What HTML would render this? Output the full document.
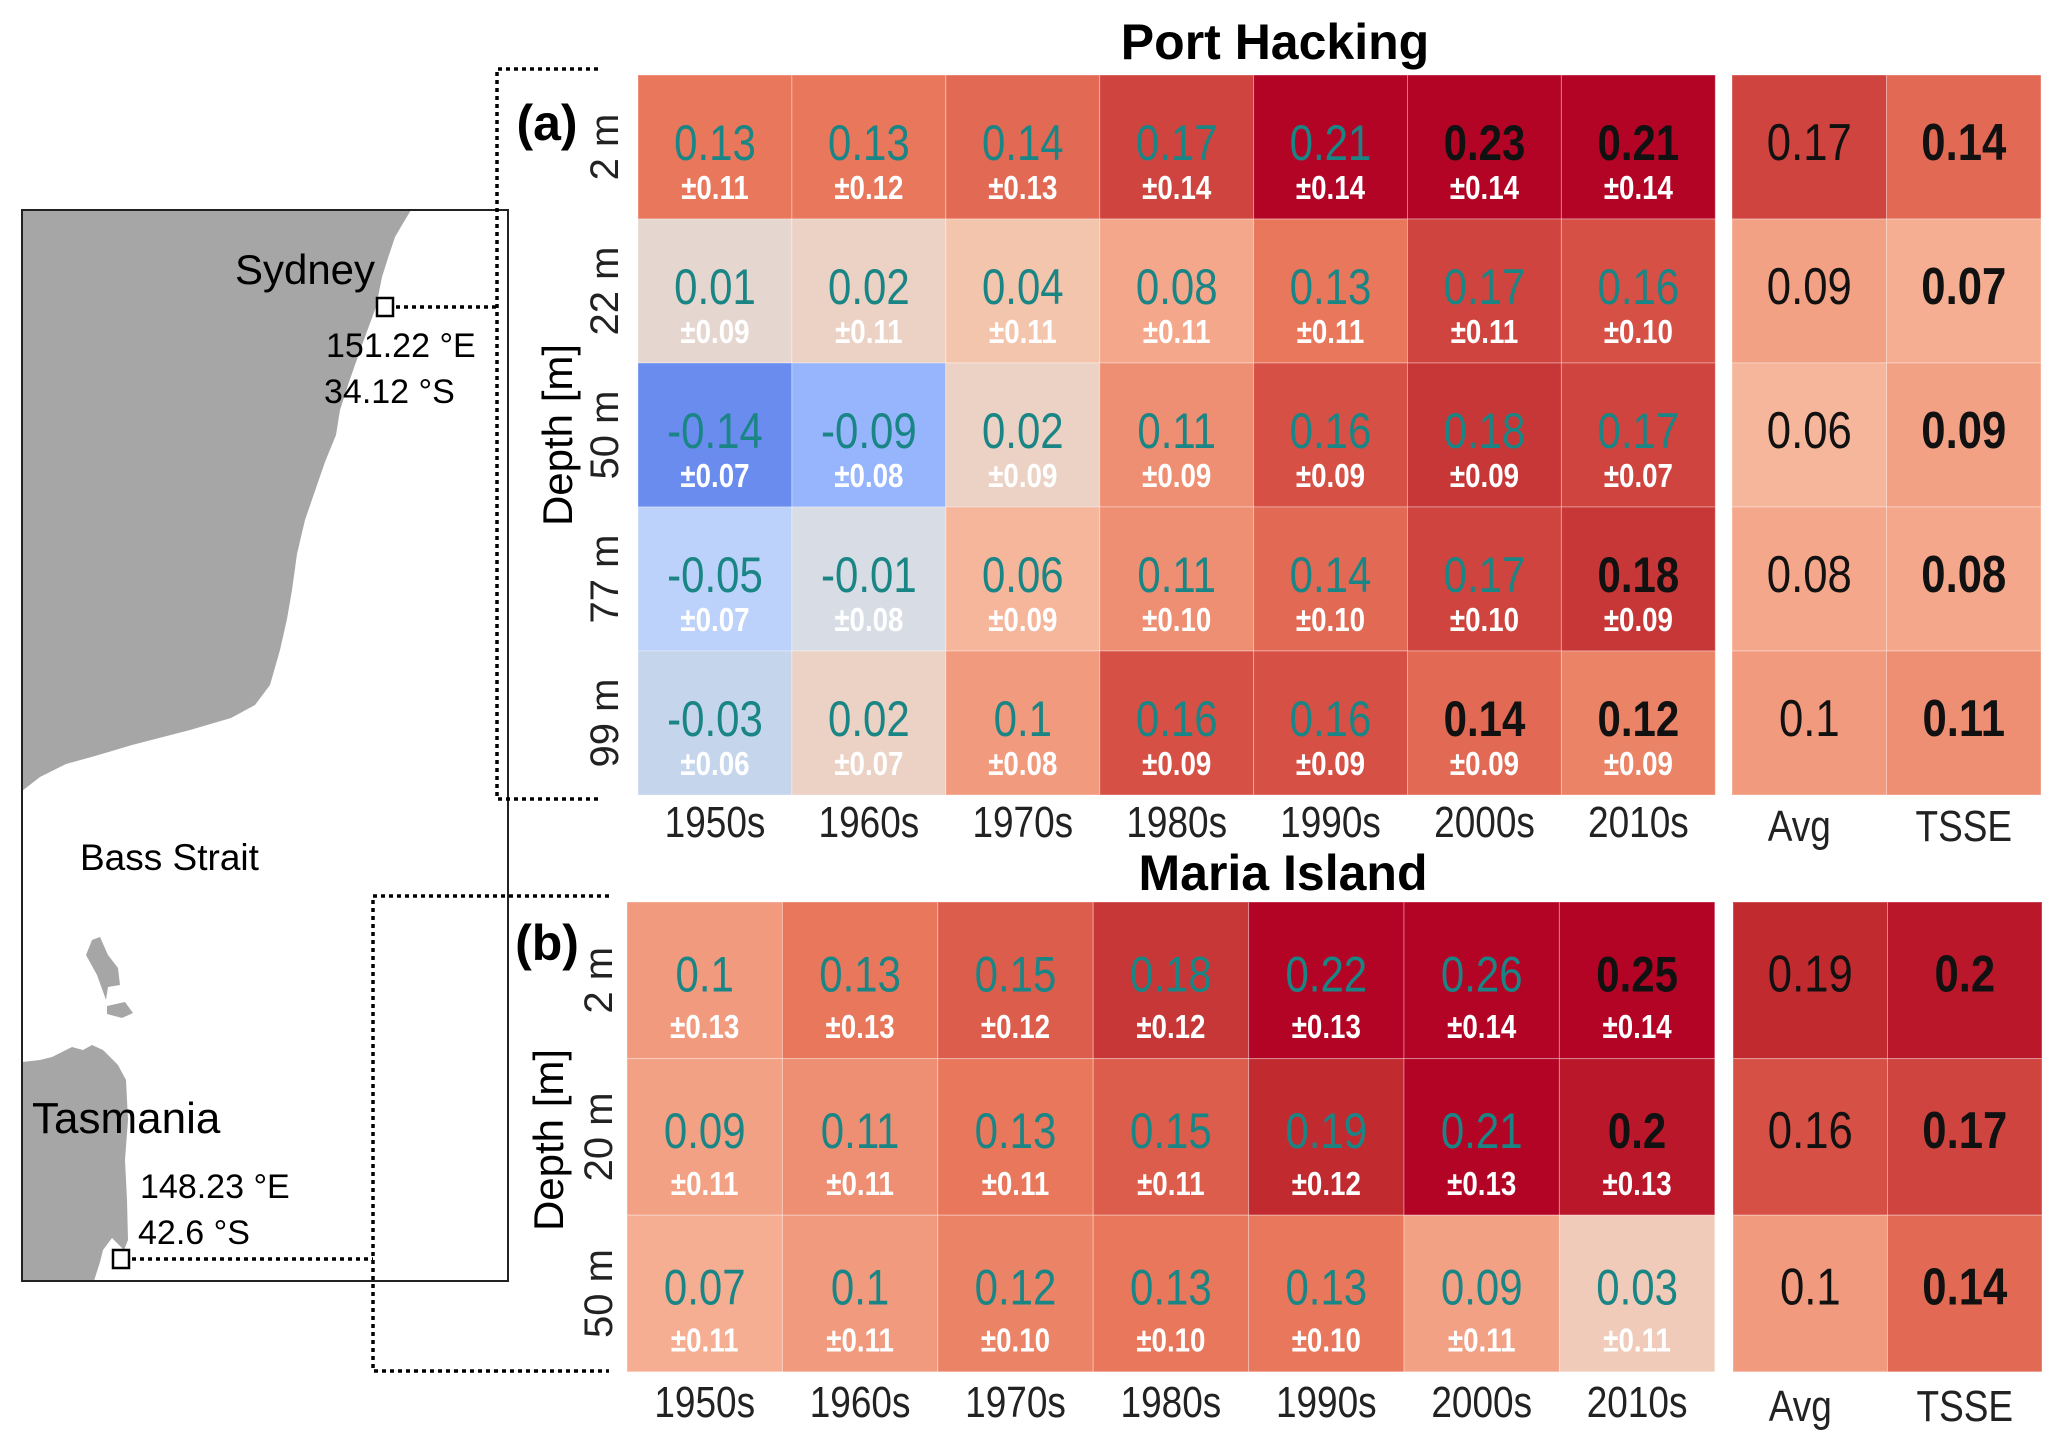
<!DOCTYPE html>
<html><head><meta charset="utf-8"><style>
html,body{margin:0;padding:0;background:#fff;}
svg{display:block;font-family:"Liberation Sans",sans-serif;}
</style></head><body>
<svg id="fig" width="2067" height="1449" viewBox="0 0 2067 1449" xmlns="http://www.w3.org/2000/svg">
<g>
<rect x="22" y="210" width="486" height="1071" fill="#fff"/>
<path fill="#a6a6a6" d="M22,210 L411,210 L402,225 L395,237 L388,258 L382,277 L376,307 L362,345 L349,382 L340,410 L336,435 L325,462 L316,488 L305,520 L297,554 L292,590 L287,619 L280,650 L270,685 L255,705 L231,718 L190,730 L132,745 L95,756 L66,764 L40,777 L22,791 Z"/>
<path fill="#a6a6a6" d="M92,940 L100,937 L108,955 L118,968 L120,985 L108,987 L106,1000 L97,975 L86,955 Z"/>
<path fill="#a6a6a6" d="M107,1006 L125,1002 L133,1013 L122,1018 L107,1014 Z"/>
<path fill="#a6a6a6" d="M22,1062 L40,1060 L52,1057 L72,1047 L83,1050 L92,1045 L103,1050 L118,1065 L126,1080 L128,1120 L125,1160 L127,1200 L128,1240 L124,1250 L112,1238 L103,1250 L100,1262 L94,1281 L22,1281 Z"/>
<rect x="22" y="210" width="486" height="1071" fill="none" stroke="#222" stroke-width="2"/>
<text x="305" y="284" font-size="42" text-anchor="middle">Sydney</text>
<text x="326" y="357" font-size="34">151.22 °E</text>
<text x="324" y="403" font-size="34">34.12 °S</text>
<text x="80" y="870" font-size="37">Bass Strait</text>
<text x="32" y="1133" font-size="44">Tasmania</text>
<text x="140" y="1198" font-size="34">148.23 °E</text>
<text x="138" y="1244" font-size="34">42.6 °S</text>
<rect x="377" y="298" width="16" height="18" fill="none" stroke="#000" stroke-width="2.5"/>
<rect x="113" y="1250" width="16" height="18" fill="none" stroke="#000" stroke-width="2.5"/>
<g fill="none" stroke="#000" stroke-width="3.5" stroke-dasharray="4,4">
<path d="M396,307 L497,307"/>
<path d="M598,69 L497,69 L497,799 L598,799"/>
<path d="M132,1259 L373,1259"/>
<path d="M609,896 L373,896 L373,1371 L609,1371"/>
</g>
</g>
<g id="heat"></g>
<text x="1275" y="59" font-size="50" font-weight="bold" text-anchor="middle">Port Hacking</text>
<text x="1283" y="890" font-size="50" font-weight="bold" text-anchor="middle">Maria Island</text>
<text x="547" y="140" font-size="50" font-weight="bold" text-anchor="middle">(a)</text>
<text x="547" y="960" font-size="50" font-weight="bold" text-anchor="middle">(b)</text>
<text transform="translate(572,435) rotate(-90)" font-size="42" text-anchor="middle">Depth [m]</text>
<text transform="translate(563,1140) rotate(-90)" font-size="42" text-anchor="middle">Depth [m]</text>
</svg>
<script>
const decades = ['1950s','1960s','1970s','1980s','1990s','2000s','2010s'];
const aDepths = ['2 m','22 m','50 m','77 m','99 m'];
const aMean = [[0.13,0.13,0.14,0.17,0.21,0.23,0.21],[0.01,0.02,0.04,0.08,0.13,0.17,0.16],[-0.14,-0.09,0.02,0.11,0.16,0.18,0.17],[-0.05,-0.01,0.06,0.11,0.14,0.17,0.18],[-0.03,0.02,0.1,0.16,0.16,0.14,0.12]];
const aErr = [[0.11,0.12,0.13,0.14,0.14,0.14,0.14],[0.09,0.11,0.11,0.11,0.11,0.11,0.10],[0.07,0.08,0.09,0.09,0.09,0.09,0.07],[0.07,0.08,0.09,0.10,0.10,0.10,0.09],[0.06,0.07,0.08,0.09,0.09,0.09,0.09]];
const aSig = [[0,0,0,0,0,1,1],[0,0,0,0,0,0,0],[0,0,0,0,0,0,0],[0,0,0,0,0,0,1],[0,0,0,0,0,1,1]];
const aAvg = [0.17,0.09,0.06,0.08,0.1];
const aTsse = [0.14,0.07,0.09,0.08,0.11];
const bDepths = ['2 m','20 m','50 m'];
const bMean = [[0.1,0.13,0.15,0.18,0.22,0.26,0.25],[0.09,0.11,0.13,0.15,0.19,0.21,0.2],[0.07,0.1,0.12,0.13,0.13,0.09,0.03]];
const bErr = [[0.13,0.13,0.12,0.12,0.13,0.14,0.14],[0.11,0.11,0.11,0.11,0.12,0.13,0.13],[0.11,0.11,0.10,0.10,0.10,0.11,0.11]];
const bSig = [[0,0,0,0,0,0,1],[0,0,0,0,0,0,1],[0,0,0,0,0,0,0]];
const bAvg = [0.19,0.16,0.1];
const bTsse = [0.2,0.17,0.14];
const sideLabels = ['Avg','TSSE'];

const stops=[[-0.14,[107,140,239]],[-0.09,[151,181,253]],[-0.05,[188,210,251]],[-0.03,[197,213,236]],[-0.01,[216,220,228]],[0.015,[233,213,203]],[0.04,[244,197,173]],[0.07,[245,174,146]],[0.10,[241,154,126]],[0.13,[232,119,92]],[0.16,[215,80,70]],[0.19,[193,43,48]],[0.21,[180,4,38]]];
function cmap(v){
  if(v<=stops[0][0])return 'rgb('+stops[0][1]+')';
  for(let i=1;i<stops.length;i++){if(v<=stops[i][0]){const a=stops[i-1],b=stops[i];const t=(v-a[0])/(b[0]-a[0]);return 'rgb('+a[1].map((c,k)=>Math.round(c+(b[1][k]-c)*t)).join(',')+')';}}
  return 'rgb('+stops[stops.length-1][1]+')';
}
const NS='http://www.w3.org/2000/svg';
const root=document.getElementById('heat');
function el(tag,attrs,parent){const e=document.createElementNS(NS,tag);for(const k in attrs)e.setAttribute(k,attrs[k]);(parent||root).appendChild(e);return e;}
function fmt(v){return String(v);}
function fmtErr(v){return '±'+v.toFixed(2);}
function tr(x,y){return 'translate('+x.toFixed(1)+','+y.toFixed(1)+') scale(0.84,1)';}

function panel(p){
  const g=el('g',{});
  
  
  const xs=i=>p.x0+i*p.cw, ys=j=>p.y0+j*p.rh;
  p.mean.forEach((row,j)=>row.forEach((v,i)=>{
    const r=el('rect',{x:xs(i),y:ys(j),width:p.cw,height:p.rh,fill:cmap(v),stroke:'rgba(255,255,255,0.35)','stroke-width':1},g);
    
    
    const t=el('text',{transform:tr(xs(i)+p.cw/2,ys(j)+p.rh*p.mY),'font-size':50,'text-anchor':'middle',fill:p.sig[j][i]?'#111':'#1a8585','font-weight':p.sig[j][i]?'bold':'normal'},g);
    t.textContent=fmt(v);
    
    
    const e=el('text',{transform:tr(xs(i)+p.cw/2,ys(j)+p.rh*p.eY),'font-size':33,'text-anchor':'middle',fill:'#fff','font-weight':'bold'},g);
    e.textContent=fmtErr(p.err[j][i]);
    
    
  }));
  [p.avg,p.tsse].forEach((arr,c)=>arr.forEach((v,j)=>{
    const x=p.sx+c*p.scw;
    const r=el('rect',{x:x,y:ys(j),width:p.scw,height:p.rh,fill:cmap(v),stroke:'rgba(255,255,255,0.35)','stroke-width':1},g);
    
    
    const t=el('text',{transform:tr(x+p.scw/2,ys(j)+p.rh*p.mY),'font-size':52,'text-anchor':'middle',fill:'#111','font-weight':c?'bold':'normal'},g);
    t.textContent=fmt(v);
    
    
  }));
  decades.forEach((d,i)=>{
    const t=el('text',{transform:tr(xs(i)+p.cw/2,p.y0+p.rh*p.depths.length+p.tickDy),'font-size':44,'text-anchor':'middle',fill:'#222'},g);
    t.textContent=d;
    
    
  });
  sideLabels.forEach((s,c)=>{
    const t=el('text',{transform:tr(p.sx+c*p.scw+p.scw/2-(c?0:10),p.y0+p.rh*p.depths.length+p.tickDy+4),'font-size':44,'text-anchor':'middle',fill:'#222'},g);
    t.textContent=s;
    
    
  });
  p.depths.forEach((d,j)=>{
    const t=el('text',{transform:'translate('+p.tickX+','+(ys(j)+p.rh/2)+') rotate(-90)','font-size':40,'text-anchor':'middle',fill:'#222'},g);
    t.textContent=d;
    
    
  });
}
panel({name:'heatmap-port-hacking',key:'a',x0:638,y0:75,cw:153.9,rh:144,sx:1732,scw:154.5,mean:aMean,err:aErr,sig:aSig,avg:aAvg,tsse:aTsse,depths:aDepths,mY:0.59,eY:0.86,tickDy:42,tickX:618});
panel({name:'heatmap-maria-island',key:'b',x0:627,y0:902,cw:155.4,rh:156.6,sx:1733,scw:154.5,mean:bMean,err:bErr,sig:bSig,avg:bAvg,tsse:bTsse,depths:bDepths,mY:0.57,eY:0.87,tickDy:45,tickX:612});
</script>
</body></html>
